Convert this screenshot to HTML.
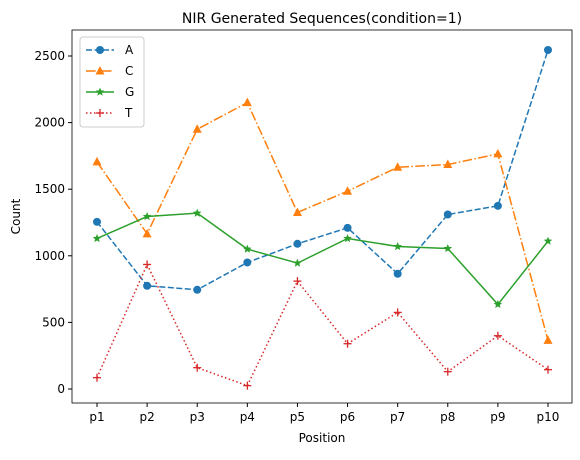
<!DOCTYPE html>
<html><head><meta charset="utf-8"><style>
body{margin:0;background:#fff;font-family:"Liberation Sans","DejaVu Sans",sans-serif;}
svg text{font-family:"DejaVu Sans","Liberation Sans",sans-serif;}
</style></head><body>
<svg id="chart" width="580" height="455"></svg>
<script>
const categories=["p1","p2","p3","p4","p5","p6","p7","p8","p9","p10"];
const seriesA=[1255,775,745,950,1090,1210,865,1310,1375,2545];
const seriesC=[1705,1165,1950,2150,1325,1485,1665,1685,1765,365];
const seriesG=[1130,1295,1320,1050,945,1130,1070,1055,635,1110];
const seriesT=[85,935,160,25,810,340,575,130,400,145];
const yTicks=[0,500,1000,1500,2000,2500];
const NS="http://www.w3.org/2000/svg";
const svg=document.getElementById('chart');
const L=72,R=572,T=30,B=403;
const x=i=>97+i*(548-97)/(categories.length-1);
const y=v=>389-v*(389-56)/2500;
function mk(tag,attrs,parent){const e=document.createElementNS(NS,tag);for(const k in attrs)e.setAttribute(k,attrs[k]);(parent||svg).appendChild(e);return e;}
let frame=mk('rect',{x:L,y:T,width:R-L,height:B-T,fill:'none',stroke:'#000','stroke-width':0.8});


let title=mk('text',{x:(L+R)/2,y:23,'text-anchor':'middle','font-size':14});
title.textContent='NIR Generated Sequences(condition=1)';


yTicks.forEach(v=>{mk('line',{x1:L-4,x2:L,y1:y(v),y2:y(v),stroke:'#000'});
 let t=mk('text',{x:L-7,y:y(v)+4,'text-anchor':'end','font-size':12});t.textContent=v;
 
 });
categories.forEach((c,i)=>{mk('line',{x1:x(i),x2:x(i),y1:B,y2:B+4,stroke:'#000'});
 let t=mk('text',{x:x(i),y:B+18,'text-anchor':'middle','font-size':12});t.textContent=c;
 
 });
let xl=mk('text',{x:(L+R)/2,y:442,'text-anchor':'middle','font-size':12});xl.textContent='Position';


let yl=mk('text',{x:0,y:0,'text-anchor':'middle','font-size':12,transform:`translate(20,${(T+B)/2}) rotate(-90)`});yl.textContent='Count';


function marker(kind,cx,cy,col,g){
 if(kind==='o')mk('circle',{cx,cy,r:4,fill:col},g);
 else if(kind==='^')mk('polygon',{points:`${cx},${cy-5} ${cx-4.5},${cy+3.5} ${cx+4.5},${cy+3.5}`,fill:col},g);
 else if(kind==='*'){let p=[];for(let k=0;k<10;k++){const r=k%2?2:4.5,a=-Math.PI/2+k*Math.PI/5;p.push((cx+r*Math.cos(a))+','+(cy+r*Math.sin(a)));}mk('polygon',{points:p.join(' '),fill:col},g);}
 else {mk('line',{x1:cx-4,x2:cx+4,y1:cy,y2:cy,stroke:col,'stroke-width':1.3},g);mk('line',{x1:cx,x2:cx,y1:cy-4,y2:cy+4,stroke:col,'stroke-width':1.3},g);}
}
const series=[['A',seriesA,'#1f77b4','6,2.5','o'],['C',seriesC,'#ff7f0e','9.6,2.4,1.5,2.4','^'],['G',seriesG,'#2ca02c','','*'],['T',seriesT,'#d62728','1.5,2.5','+']];
series.forEach(([n,d,col,dash,m])=>{
 const g=mk('g',{});
 
 
 mk('polyline',{points:d.map((v,i)=>x(i)+','+y(v)).join(' '),fill:'none',stroke:col,'stroke-width':1.5,'stroke-dasharray':dash},g);
 d.forEach((v,i)=>marker(m,x(i),y(v),col,g));
});
const lg=mk('g',{});


mk('rect',{x:80,y:37,width:64,height:90,rx:3,fill:'#fff',stroke:'#ccc'},lg);
series.forEach(([n,d,col,dash,m],k)=>{const yy=50+k*21;
 const e=mk('g',{},lg);
 
 
 mk('line',{x1:86,x2:114,y1:yy,y2:yy,stroke:col,'stroke-width':1.5,'stroke-dasharray':dash},e);
 marker(m,100,yy,col,e);
 let t=mk('text',{x:125,y:yy+4,'font-size':12},e);t.textContent=n;});
</script>
</body></html>
